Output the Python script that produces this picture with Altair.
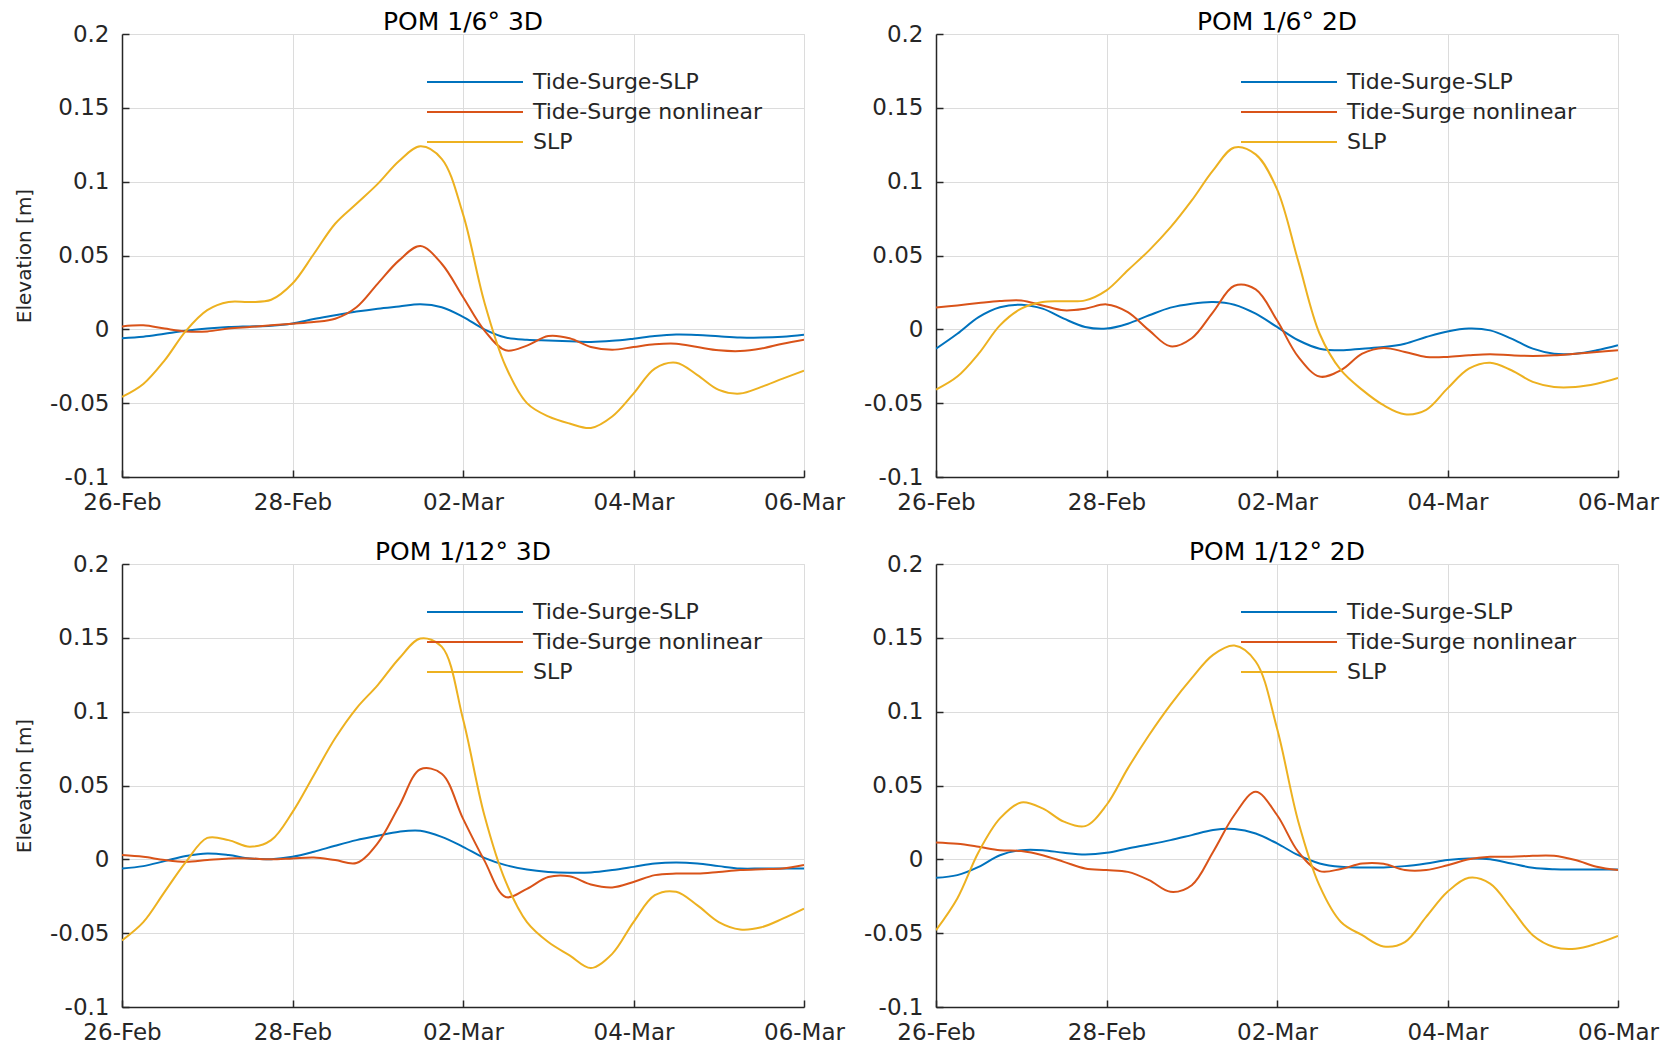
import altair as alt
import pandas as pd

FONT = "DejaVu Sans"
SERIES = ["Tide-Surge-SLP", "Tide-Surge nonlinear", "SLP"]
COLORS = ["#0072BD", "#D95319", "#EDB120"]
TITLES = ["POM 1/6° 3D", "POM 1/6° 2D", "POM 1/12° 3D", "POM 1/12° 2D"]

# day offsets from 26-Feb (00:00)
DAYS = [0, 0.25, 0.5, 0.75, 1, 1.25, 1.5, 1.75, 2, 2.25, 2.5, 2.75, 3, 3.25, 3.5, 3.75,
        4, 4.25, 4.5, 4.75, 5, 5.25, 5.5, 5.75, 6, 6.25, 6.5, 6.75, 7, 7.25, 7.5, 7.75, 8]

# POM 1/6° 3D
A_TSS = [-0.006, -0.005, -0.003, -0.001, 0.0005, 0.0015, 0.002, 0.0025, 0.004, 0.007, 0.0095,
         0.012, 0.014, 0.0155, 0.017, 0.015, 0.0085, 0.0, -0.0055, -0.007, -0.0075, -0.008,
         -0.0085, -0.0078, -0.0063, -0.0045, -0.0035, -0.0038, -0.0047, -0.0055, -0.0056, -0.005, -0.0036]
A_TSN = [0.002, 0.0027, 0.0005, -0.0014, -0.0014, 0.0005, 0.0016, 0.0027, 0.0038, 0.005, 0.0072,
         0.015, 0.031, 0.0467, 0.0564, 0.0444, 0.0219, -0.0007, -0.0142, -0.011, -0.0045, -0.006,
         -0.012, -0.0138, -0.012, -0.0101, -0.0097, -0.012, -0.0142, -0.0147, -0.013, -0.0097, -0.007]
A_SLP = [-0.0458, -0.037, -0.021, -0.001, 0.013, 0.0185, 0.0185, 0.02, 0.031, 0.051, 0.0715,
         0.085, 0.0985, 0.114, 0.124, 0.1155, 0.078, 0.0185, -0.025, -0.05, -0.059, -0.0638,
         -0.0668, -0.059, -0.0435, -0.0266, -0.0226, -0.031, -0.041, -0.0435, -0.039, -0.0334, -0.028]

# POM 1/6° 2D
B_TSS = [-0.0131, -0.003, 0.0083, 0.015, 0.0167, 0.014, 0.0072, 0.0016, 0.0005, 0.0038, 0.0095,
         0.0147, 0.0174, 0.0185, 0.0167, 0.0106, 0.0016, -0.0074, -0.0131, -0.0142, -0.0131, -0.012,
         -0.0097, -0.0052, -0.0014, 0.0005, -0.0007, -0.0063, -0.0131, -0.0165, -0.0165, -0.0142, -0.0108]
B_TSN = [0.0147, 0.0162, 0.0178, 0.0192, 0.0196, 0.0162, 0.0129, 0.014, 0.0169, 0.0117, -0.0007,
         -0.0115, -0.006, 0.0117, 0.0295, 0.027, 0.0061, -0.0187, -0.032, -0.0277, -0.0165, -0.0126,
         -0.0153, -0.0187, -0.0187, -0.0176, -0.0169, -0.0176, -0.018, -0.0176, -0.0165, -0.0153, -0.0142]
B_SLP = [-0.0408, -0.032, -0.0165, 0.0027, 0.014, 0.0185, 0.019, 0.0196, 0.0264, 0.040, 0.0535,
         0.069, 0.0873, 0.1076, 0.1232, 0.1185, 0.095, 0.046, -0.003, -0.0277, -0.041, -0.0514,
         -0.0575, -0.0545, -0.040, -0.0266, -0.0226, -0.0277, -0.0356, -0.039, -0.039, -0.0368, -0.033]

# POM 1/12° 3D
C_TSS = [-0.0062, -0.0046, -0.0012, 0.0022, 0.004, 0.0029, 0.0006, 0.0001, 0.0017, 0.0051, 0.0092,
         0.013, 0.016, 0.0187, 0.0193, 0.0152, 0.0085, 0.001, -0.0039, -0.0069, -0.0085, -0.0091,
         -0.0089, -0.0073, -0.0051, -0.0028, -0.0021, -0.0028, -0.0046, -0.0062, -0.0062, -0.0062, -0.0062]
C_TSN = [0.0029, 0.0017, -0.0005, -0.0017, -0.0005, 0.0006, 0.0006, 0.0, 0.0006, 0.0012, -0.0005,
         -0.0025, 0.011, 0.036, 0.061, 0.058, 0.0276, -0.0007, -0.0255, -0.02, -0.012, -0.0115,
         -0.017, -0.019, -0.0153, -0.0107, -0.0096, -0.0096, -0.0085, -0.0073, -0.0067, -0.0062, -0.0039]
C_SLP = [-0.0549, -0.0425, -0.022, -0.0017, 0.0145, 0.013, 0.0085, 0.013, 0.032, 0.057, 0.082,
         0.1023, 0.118, 0.136, 0.1495, 0.144, 0.095, 0.03, -0.015, -0.0425, -0.056, -0.065,
         -0.0736, -0.064, -0.0425, -0.0243, -0.022, -0.0312, -0.0425, -0.0475, -0.046, -0.0402, -0.0334]

# POM 1/12° 2D
D_TSS = [-0.0125, -0.0107, -0.0051, 0.0028, 0.0062, 0.0062, 0.0044, 0.0033, 0.0044, 0.0074, 0.0101,
         0.013, 0.0164, 0.0198, 0.0205, 0.0175, 0.0108, 0.0028, -0.0028, -0.0051, -0.0055, -0.0055,
         -0.0046, -0.0028, -0.0005, 0.0006, 0.0001, -0.0028, -0.0057, -0.0067, -0.0069, -0.0069, -0.0069]
D_TSN = [0.0114, 0.0105, 0.0085, 0.0062, 0.0056, 0.0028, -0.0017, -0.0062, -0.0073, -0.0085, -0.0141,
         -0.022, -0.0175, 0.005, 0.030, 0.0458, 0.030, 0.005, -0.008, -0.0065, -0.0028, -0.003,
         -0.0073, -0.0073, -0.004, 0.0, 0.0017, 0.0017, 0.0024, 0.0024, -0.0005, -0.005, -0.0073]
D_SLP = [-0.048, -0.0265, 0.005, 0.0277, 0.0385, 0.0345, 0.0255, 0.0225, 0.0368, 0.0616, 0.0842,
         0.1046, 0.1227, 0.1385, 0.1448, 0.134, 0.0887, 0.0255, -0.018, -0.0424, -0.0514, -0.059,
         -0.056, -0.039, -0.022, -0.0125, -0.0164, -0.0334, -0.0514, -0.0594, -0.0605, -0.0571, -0.0519]

PANELS = [
    (TITLES[0], [A_TSS, A_TSN, A_SLP]),
    (TITLES[1], [B_TSS, B_TSN, B_SLP]),
    (TITLES[2], [C_TSS, C_TSN, C_SLP]),
    (TITLES[3], [D_TSS, D_TSN, D_SLP]),
]

Y_TICKS = [-0.1, -0.05, 0, 0.05, 0.1, 0.15, 0.2]
X_TICKS = [alt.DateTime(year=2017, month=2, date=26), alt.DateTime(year=2017, month=2, date=28),
           alt.DateTime(year=2017, month=3, date=2), alt.DateTime(year=2017, month=3, date=4),
           alt.DateTime(year=2017, month=3, date=6)]
BASE = pd.Timestamp("2017-02-26")

X_SCALE = alt.Scale(domain=[X_TICKS[0], X_TICKS[-1]])
Y_SCALE = alt.Scale(domain=[-0.1, 0.2], nice=False, zero=False)


def make_panel(idx, title, series_vals):
    rows = []
    for name, vals in zip(SERIES, series_vals):
        for d, v in zip(DAYS, vals):
            rows.append({"time": BASE + pd.Timedelta(hours=d * 24), "value": v,
                         "series": name, "k": SERIES.index(name)})
    df = pd.DataFrame(rows)
    show_ytitle = idx % 2 == 0
    base = alt.Chart(df)
    lines = base.mark_line(strokeWidth=2, interpolate="catmull-rom", clip=True).encode(
        x=alt.X("time:T", scale=X_SCALE,
                axis=alt.Axis(values=X_TICKS, format="%d-%b", title=None, labelFlush=False,
                              labelOverlap=False, labelPadding=14, labelBaseline="top",
                              ticks=False, orient="bottom")),
        y=alt.Y("value:Q", scale=Y_SCALE,
                axis=alt.Axis(values=Y_TICKS, labelExpr="'' + datum.value",
                              title="Elevation [m]" if show_ytitle else None,
                              titleFontSize=20,
                              labelPadding=13, titlePadding=15, ticks=False, orient="left")),
        color=alt.Color("series:N", scale=alt.Scale(domain=SERIES, range=COLORS),
                        legend=alt.Legend(title=None)),
        detail="k:O",
    )
    # inward tick marks (MATLAB style): an extra axis pair displaced into the plot
    ticks = base.mark_line(opacity=0).encode(
        x=alt.X("time:T", scale=X_SCALE,
                axis=alt.Axis(values=X_TICKS, orient="bottom", offset=-7, tickSize=7,
                              tickWidth=1.5, tickColor="#262626", labels=False, domain=False,
                              grid=False, title=None, ticks=True)),
        y=alt.Y("value:Q", scale=Y_SCALE,
                axis=alt.Axis(values=Y_TICKS, orient="left", offset=-7, tickSize=7,
                              tickWidth=1.5, tickColor="#262626", labels=False, domain=False,
                              grid=False, title=None, ticks=True)),
        detail="k:O",
    )
    return alt.layer(lines, ticks).resolve_axis(x="independent", y="independent").properties(
        width=682, height=443,
        title=alt.TitleParams(title, fontSize=25, font=FONT, fontWeight="normal", color="#000000",
                              offset=-12, anchor="middle", frame="group"),
    )


charts = [make_panel(i, t, s) for i, (t, s) in enumerate(PANELS)]

chart = alt.concat(
    *charts, columns=2, spacing={"row": 87, "column": 132}, bounds="flush"
).resolve_scale(color="independent").properties(
    padding={"left": 5, "top": 1, "right": 5, "bottom": 0},
    background="white",
).configure_view(
    stroke="#dcdcdc", strokeWidth=1
).configure_axis(
    labelFont=FONT, labelFontSize=23, labelColor="#262626",
    titleFont=FONT, titleFontSize=20, titleFontWeight="normal", titleColor="#262626",
    domainColor="#262626", domainWidth=1.5,
    grid=True, gridColor="#dcdcdc", gridWidth=1,
).configure_legend(
    orient="none", legendX=304, legendY=35,
    symbolType="M-1,0L7,0", symbolSize=576, symbolStrokeWidth=2,
    labelOffset=81, labelFont=FONT, labelFontSize=22, labelColor="#262626", labelLimit=500,
    rowPadding=6, padding=0,
)

chart.save("out.html", embed_options={"renderer": "svg", "actions": False})
